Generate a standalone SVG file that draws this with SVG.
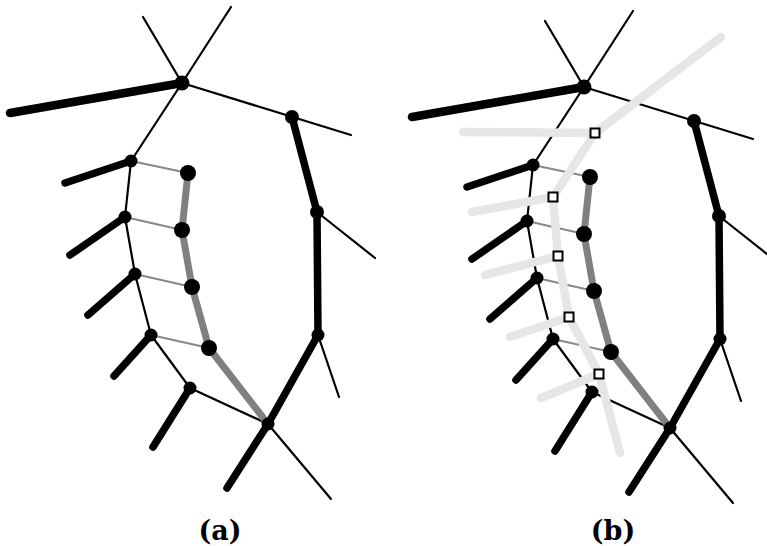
<svg xmlns="http://www.w3.org/2000/svg" width="767" height="546" viewBox="0 0 767 546">
<style>
.thin{stroke:#000;stroke-width:2.2;fill:none;stroke-linecap:round}
.thick{stroke:#000;stroke-width:7.5;fill:none;stroke-linecap:round}
.thicker{stroke:#000;stroke-width:8.5;fill:none;stroke-linecap:round}
.gthin{stroke:#888;stroke-width:2.2;fill:none}
.gthick{stroke:#808080;stroke-width:7;fill:none;stroke-linejoin:round;stroke-linecap:round}
.light{stroke:#e6e6e6;stroke-width:8.5;fill:none;stroke-linecap:round;stroke-linejoin:round}
.n{fill:#000}
.sq{fill:#fff;stroke:#000;stroke-width:2}
.lbl{font-family:"DejaVu Serif","Liberation Serif",serif;font-weight:bold;font-size:27px;fill:#000;text-anchor:middle}
</style>
<rect width="767" height="546" fill="#fff"/>

<g id="panel-a">
<g id="a-connectors">
<line class="thin" x1="182" y1="83" x2="143" y2="17"/>
<line class="thin" x1="182" y1="83" x2="231" y2="7"/>
<line class="thicker" x1="182" y1="83" x2="10" y2="113"/>
<line class="thin" x1="182" y1="83" x2="351" y2="135"/>
<line class="thin" x1="182" y1="83" x2="131" y2="161"/>
<line class="thick" x1="131" y1="161" x2="65" y2="183"/>
<line class="thin" x1="131" y1="161" x2="125" y2="217"/>
<line class="thick" x1="125" y1="217" x2="70" y2="255"/>
<line class="thin" x1="125" y1="217" x2="135" y2="274"/>
<line class="thick" x1="135" y1="274" x2="88" y2="315"/>
<line class="thin" x1="135" y1="274" x2="151" y2="335"/>
<line class="thick" x1="151" y1="335" x2="114" y2="376"/>
<line class="thin" x1="151" y1="335" x2="190" y2="388"/>
<line class="thick" x1="190" y1="388" x2="153" y2="447"/>
<line class="thin" x1="190" y1="388" x2="268" y2="424"/>
<line class="thick" x1="292" y1="117" x2="317" y2="212"/>
<line class="thin" x1="317" y1="212" x2="375" y2="258"/>
<line class="thick" x1="317" y1="212" x2="318" y2="335"/>
<line class="thin" x1="318" y1="335" x2="339" y2="397"/>
<line class="thick" x1="318" y1="335" x2="268" y2="424"/>
<line class="thick" x1="268" y1="424" x2="227" y2="488"/>
<line class="thin" x1="268" y1="424" x2="331" y2="499"/>
<line class="gthin" x1="131" y1="161" x2="188" y2="173"/>
<line class="gthin" x1="125" y1="217" x2="182" y2="230"/>
<line class="gthin" x1="135" y1="274" x2="192" y2="287"/>
<line class="gthin" x1="151" y1="335" x2="209" y2="348"/>
<polyline class="gthick" points="188,173 182,230 192,287 209,348 268,424"/>
</g>
<g id="a-hub"><circle class="n" cx="182" cy="83" r="7.5"/></g>
<g id="a-b"><circle class="n" cx="292" cy="117" r="7"/></g>
<g id="a-g"><circle class="n" cx="317" cy="212" r="7"/></g>
<g id="a-h"><circle class="n" cx="318" cy="335" r="6.5"/></g>
<g id="a-i"><circle class="n" cx="268" cy="424" r="6.5"/></g>
<g id="a-c"><circle class="n" cx="131" cy="161" r="6.5"/></g>
<g id="a-e"><circle class="n" cx="125" cy="217" r="6.5"/></g>
<g id="a-j"><circle class="n" cx="135" cy="274" r="6.5"/></g>
<g id="a-l"><circle class="n" cx="151" cy="335" r="6.5"/></g>
<g id="a-n"><circle class="n" cx="190" cy="388" r="6.5"/></g>
<g id="a-d"><circle class="n" cx="188" cy="173" r="8"/></g>
<g id="a-f"><circle class="n" cx="182" cy="230" r="8"/></g>
<g id="a-k"><circle class="n" cx="192" cy="287" r="8"/></g>
<g id="a-m"><circle class="n" cx="209" cy="348" r="8"/></g>
<text class="lbl" x="220" y="540">(a)</text>
</g>

<g id="panel-b">
<g transform="translate(402,4)">
<g id="b-connectors">
<line class="thin" x1="182" y1="83" x2="143" y2="17"/>
<line class="thin" x1="182" y1="83" x2="231" y2="7"/>
<line class="thicker" x1="182" y1="83" x2="10" y2="113"/>
<line class="thin" x1="182" y1="83" x2="351" y2="135"/>
<line class="thin" x1="182" y1="83" x2="131" y2="161"/>
<line class="thick" x1="131" y1="161" x2="65" y2="183"/>
<line class="thin" x1="131" y1="161" x2="125" y2="217"/>
<line class="thick" x1="125" y1="217" x2="70" y2="255"/>
<line class="thin" x1="125" y1="217" x2="135" y2="274"/>
<line class="thick" x1="135" y1="274" x2="88" y2="315"/>
<line class="thin" x1="135" y1="274" x2="151" y2="335"/>
<line class="thick" x1="151" y1="335" x2="114" y2="376"/>
<line class="thin" x1="151" y1="335" x2="190" y2="388"/>
<line class="thick" x1="190" y1="388" x2="153" y2="447"/>
<line class="thin" x1="190" y1="388" x2="268" y2="424"/>
<line class="thick" x1="292" y1="117" x2="317" y2="212"/>
<line class="thin" x1="317" y1="212" x2="375" y2="258"/>
<line class="thick" x1="317" y1="212" x2="318" y2="335"/>
<line class="thin" x1="318" y1="335" x2="339" y2="397"/>
<line class="thick" x1="318" y1="335" x2="268" y2="424"/>
<line class="thick" x1="268" y1="424" x2="227" y2="488"/>
<line class="thin" x1="268" y1="424" x2="331" y2="499"/>
<line class="gthin" x1="131" y1="161" x2="188" y2="173"/>
<line class="gthin" x1="125" y1="217" x2="182" y2="230"/>
<line class="gthin" x1="135" y1="274" x2="192" y2="287"/>
<line class="gthin" x1="151" y1="335" x2="209" y2="348"/>
<polyline class="gthick" points="188,173 182,230 192,287 209,348 268,424"/>
</g>
<g id="b-hub"><circle class="n" cx="182" cy="83" r="7.5"/></g>
<g id="b-b"><circle class="n" cx="292" cy="117" r="7"/></g>
<g id="b-g"><circle class="n" cx="317" cy="212" r="7"/></g>
<g id="b-h"><circle class="n" cx="318" cy="335" r="6.5"/></g>
<g id="b-i"><circle class="n" cx="268" cy="424" r="6.5"/></g>
<g id="b-c"><circle class="n" cx="131" cy="161" r="6.5"/></g>
<g id="b-e"><circle class="n" cx="125" cy="217" r="6.5"/></g>
<g id="b-j"><circle class="n" cx="135" cy="274" r="6.5"/></g>
<g id="b-l"><circle class="n" cx="151" cy="335" r="6.5"/></g>
<g id="b-n"><circle class="n" cx="190" cy="388" r="6.5"/></g>
<g id="b-d"><circle class="n" cx="188" cy="173" r="8"/></g>
<g id="b-f"><circle class="n" cx="182" cy="230" r="8"/></g>
<g id="b-k"><circle class="n" cx="192" cy="287" r="8"/></g>
<g id="b-m"><circle class="n" cx="209" cy="348" r="8"/></g>
</g>
<g id="b-light-connectors">
<polyline class="light" points="721,37 595,133 553,197 558,256 569,317 599,374 620,453"/>
<line class="light" x1="595" y1="133" x2="463" y2="132"/>
<line class="light" x1="553" y1="197" x2="472" y2="212"/>
<line class="light" x1="558" y1="256" x2="485" y2="275"/>
<line class="light" x1="569" y1="317" x2="510" y2="337"/>
<line class="light" x1="599" y1="374" x2="541" y2="398"/>
</g>
<g id="b-s1"><rect class="sq" x="590.5" y="128.5" width="9" height="9"/></g>
<g id="b-s2"><rect class="sq" x="548.5" y="192.5" width="9" height="9"/></g>
<g id="b-s3"><rect class="sq" x="553.5" y="251.5" width="9" height="9"/></g>
<g id="b-s4"><rect class="sq" x="564.5" y="312.5" width="9" height="9"/></g>
<g id="b-s5"><rect class="sq" x="594.5" y="369.5" width="9" height="9"/></g>
<text class="lbl" x="613" y="540">(b)</text>
</g>
</svg>
